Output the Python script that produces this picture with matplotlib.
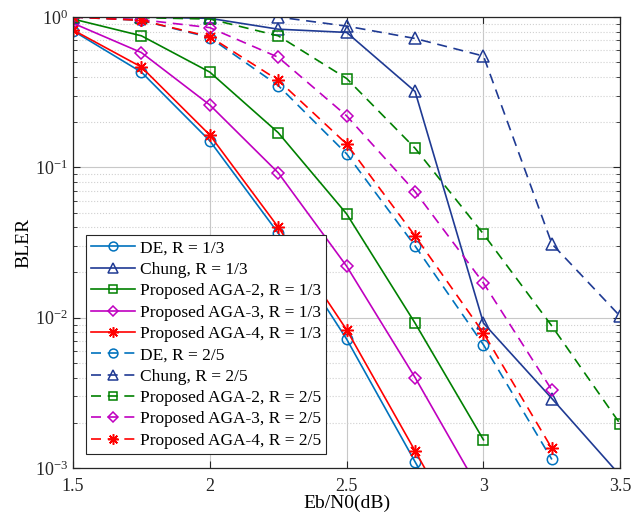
import numpy as np
import matplotlib
matplotlib.use('Agg')
from matplotlib import pyplot as plt
from matplotlib.ticker import LogLocator, NullFormatter

plt.rcParams['font.family'] = 'Liberation Serif'
plt.rcParams['mathtext.fontset'] = 'custom'
plt.rcParams['mathtext.rm'] = 'Liberation Serif'
plt.rcParams['mathtext.it'] = 'Liberation Serif:italic'

ebn0 = [1.5, 1.75, 2.0, 2.25, 2.5, 2.75, 3.0, 3.25, 3.5]

# R = 1/3
de_13 = [0.81, 0.43, 0.15, 0.0365, 0.0072, 0.0011, 0.00017]
chung_13 = [1.0, 1.0, 0.98, 0.83, 0.79, 0.32, 0.0092, 0.0029, 0.00089]
aga2_13 = [0.97, 0.75, 0.43, 0.17, 0.049, 0.0092, 0.00154]
aga3_13 = [0.91, 0.58, 0.26, 0.092, 0.022, 0.004, 0.00064]
aga4_13 = [0.82, 0.465, 0.164, 0.04, 0.0083, 0.0013, 0.0002]

# R = 2/5
de_25 = [1.0, 0.95, 0.73, 0.35, 0.123, 0.030, 0.0066, 0.00114]
chung_25 = [1.0, 1.0, 1.0, 1.0, 0.87, 0.72, 0.55, 0.031, 0.0102]
aga2_25 = [1.0, 0.99, 0.97, 0.75, 0.39, 0.134, 0.036, 0.0088, 0.00196]
aga3_25 = [1.0, 0.96, 0.85, 0.54, 0.22, 0.069, 0.017, 0.0033]
aga4_25 = [1.0, 0.95, 0.74, 0.38, 0.143, 0.035, 0.0079, 0.00135]

c_de = '#0072BD'
c_chung = '#1F3A93'
c_aga2 = '#008000'
c_aga3 = '#C000C0'
c_aga4 = '#FF0000'

asterisk = (8, 2, 0)

fig = plt.figure(figsize=(6.36, 5.16), dpi=100)
ax = fig.add_axes([0.1148, 0.093, 0.8605, 0.874])

series = [
    (de_13, c_de, 'o', '-', 'DE, R = 1/3'),
    (chung_13, c_chung, '^', '-', 'Chung, R = 1/3'),
    (aga2_13, c_aga2, 's', '-', 'Proposed AGA-2, R = 1/3'),
    (aga3_13, c_aga3, 'D', '-', 'Proposed AGA-3, R = 1/3'),
    (aga4_13, c_aga4, asterisk, '-', 'Proposed AGA-4, R = 1/3'),
    (de_25, c_de, 'o', '--', 'DE, R = 2/5'),
    (chung_25, c_chung, '^', '--', 'Chung, R = 2/5'),
    (aga2_25, c_aga2, 's', '--', 'Proposed AGA-2, R = 2/5'),
    (aga3_25, c_aga3, 'D', '--', 'Proposed AGA-3, R = 2/5'),
    (aga4_25, c_aga4, asterisk, '--', 'Proposed AGA-4, R = 2/5'),
]

sizes = {'o': 7.5, '^': 8.5, 's': 6.5, 'D': 6.5}

for vals, col, mk, ls, lab in series:
    ms = sizes.get(mk, 9) if isinstance(mk, str) else 9
    line, = ax.semilogy(ebn0[:len(vals)], vals, color=col, linestyle=ls, linewidth=1.2,
                        marker=mk, markersize=ms, markerfacecolor='none',
                        markeredgecolor=col, markeredgewidth=1.1, label=lab)
    if ls == '--':
        line.set_dashes((6, 4))

ax.set_xlim(1.5, 3.5)
ax.set_ylim(1e-3, 1)
ax.set_xticks([1.5, 2, 2.5, 3, 3.5])
ax.set_xticklabels(['1.5', '2', '2.5', '3', '3.5'])
ax.yaxis.set_major_locator(LogLocator(base=10, numticks=10))
ax.yaxis.set_minor_locator(LogLocator(base=10, subs=np.arange(2, 10), numticks=10))
ax.yaxis.set_minor_formatter(NullFormatter())

ax.grid(True, which='major', color='#c8c8c8', linewidth=0.8)
ax.grid(True, which='minor', axis='y', color='#d0d0d0', linestyle=':', linewidth=0.8)
ax.set_axisbelow(True)

ax.tick_params(which='both', direction='in', top=True, right=True, labelsize=13, colors='#262626')
ax.tick_params(axis='x', which='major', pad=7)
ax.tick_params(which='major', length=5)
ax.tick_params(which='minor', length=3)
for sp in ax.spines.values():
    sp.set_color('#262626')
    sp.set_linewidth(0.9)

ax.set_xlabel('Eb/N0(dB)', fontsize=14, labelpad=0)
ax.set_ylabel('BLER', fontsize=14, labelpad=2)

leg = ax.legend(loc='lower left', bbox_to_anchor=(0.024, 0.031), borderaxespad=0,
                fontsize=12.5, markerscale=0.85,
                handlelength=2.5, labelspacing=0.3, borderpad=0.3, handletextpad=0.3,
                fancybox=False, framealpha=1, edgecolor='#262626')
leg.get_frame().set_linewidth(0.8)

fig.savefig('out.png', dpi=100)
